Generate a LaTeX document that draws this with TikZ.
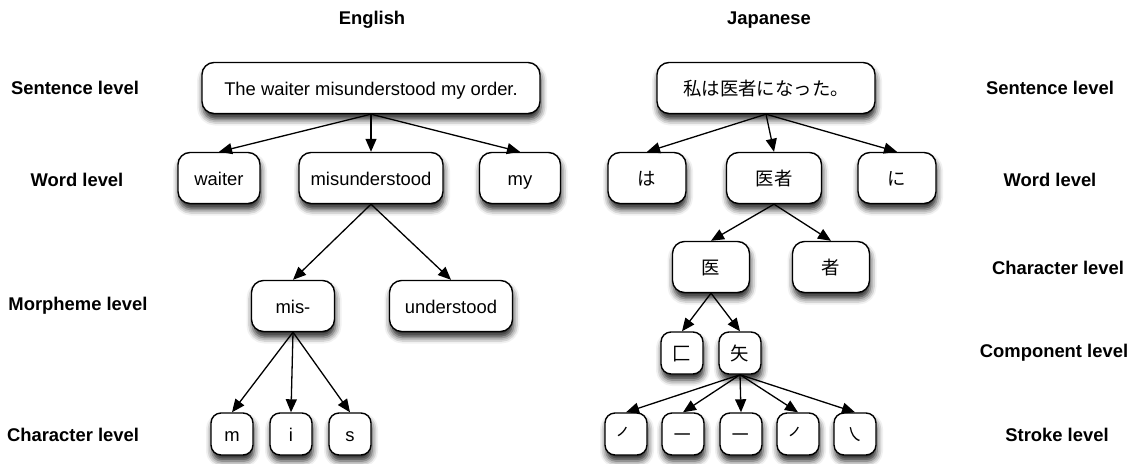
\documentclass[tikz,border=0pt]{standalone}
\usepackage{fontspec}
\setmainfont{Liberation Sans}
\newfontfamily\cjk{Noto Sans CJK JP}
\usetikzlibrary{arrows.meta,shadows.blur}
\begin{document}
\begin{tikzpicture}[x=1pt,y=-1pt,
  font=\fontsize{18.4}{22}\selectfont,
  tbox/.style={draw, line width=1.4pt, rounded corners=12pt, fill=white,
    blur shadow={shadow xshift=1pt, shadow yshift=-6pt, shadow blur radius=6pt, shadow opacity=85},
    inner sep=0pt, minimum height=51pt, text height=15pt, text depth=1pt},
  sbox/.style={tbox, rounded corners=10pt, minimum width=42pt, minimum height=42pt},
  lvl/.style={font=\fontsize{18.4}{22}\selectfont\bfseries},
  arr/.style={-{Triangle[length=13pt,width=11pt]}, line width=1.3pt}]
\path[use as bounding box] (0,0) rectangle (1139,463);
% titles
\node[lvl] (tEn) at (372,20) {English};
\node[lvl] (tJa) at (769,20) {Japanese};
% left labels
\node[lvl] (lS) at (75,88) {Sentence level};
\node[lvl] (lW) at (77,180) {Word level};
\node[lvl] (lM) at (78,306) {Morpheme level};
\node[lvl] (lC) at (73,435) {Character level};
% right labels
\node[lvl] (rS) at (1050,88) {Sentence level};
\node[lvl] (rW) at (1050,180) {Word level};
\node[lvl] (rC) at (1058,268) {Character level};
\node[lvl] (rP) at (1054,353) {Component level};
\node[lvl] (rK) at (1057,435) {Stroke level};
% English tree
\node[tbox, minimum width=338pt] (es) at (371,88) {The waiter misunderstood my order.};
\node[tbox, minimum width=82pt] (ew1) at (219,178) {waiter};
\node[tbox, minimum width=144pt] (ew2) at (371,178) {misunderstood};
\node[tbox, minimum width=81pt] (ew3) at (520,178) {my};
\node[tbox, minimum width=83pt] (em1) at (293,306) {mis-};
\node[tbox, minimum width=123pt] (em2) at (451,306) {understood};
\node[sbox] (ec1) at (232,434) {m};
\node[sbox] (ec2) at (291,434) {i};
\node[sbox] (ec3) at (350,434) {s};
% Japanese tree
\node[tbox, minimum width=218pt] (js) at (766,88) {\cjk 私は医者になった。};
\node[tbox, minimum width=78pt] (jw1) at (647,178) {\cjk は};
\node[tbox, minimum width=95pt] (jw2) at (774,178) {\cjk 医者};
\node[tbox, minimum width=78pt] (jw3) at (897,178) {\cjk に};
\node[tbox, minimum width=77pt] (jc1) at (711,267) {\cjk 医};
\node[tbox, minimum width=77pt] (jc2) at (831,267) {\cjk 者};
\node[sbox] (jp1) at (682,353) {\cjk 匚};
\node[sbox] (jp2) at (740,353) {\cjk 矢};
\node[sbox] (jk1) at (626,434) {\cjk ㇒};
\node[sbox] (jk2) at (683,434) {\cjk ㇐};
\node[sbox] (jk3) at (741,434) {\cjk ㇐};
\node[sbox] (jk4) at (798,434) {\cjk ㇒};
\node[sbox] (jk5) at (855,434) {\cjk ㇏};
% arrows English
\foreach \c in {ew1,ew2,ew3} \draw[arr] (es.south) -- (\c.north);
\foreach \c in {em1,em2} \draw[arr] (ew2.south) -- (\c.north);
\foreach \c in {ec1,ec2,ec3} \draw[arr] (em1.south) -- (\c.north);
% arrows Japanese
\foreach \c in {jw1,jw2,jw3} \draw[arr] (js.south) -- (\c.north);
\foreach \c in {jc1,jc2} \draw[arr] (jw2.south) -- (\c.north);
\foreach \c in {jp1,jp2} \draw[arr] (jc1.south) -- (\c.north);
\foreach \c in {jk1,jk2,jk3,jk4,jk5} \draw[arr] (jp2.south) -- (\c.north);
\end{tikzpicture}
\end{document}
